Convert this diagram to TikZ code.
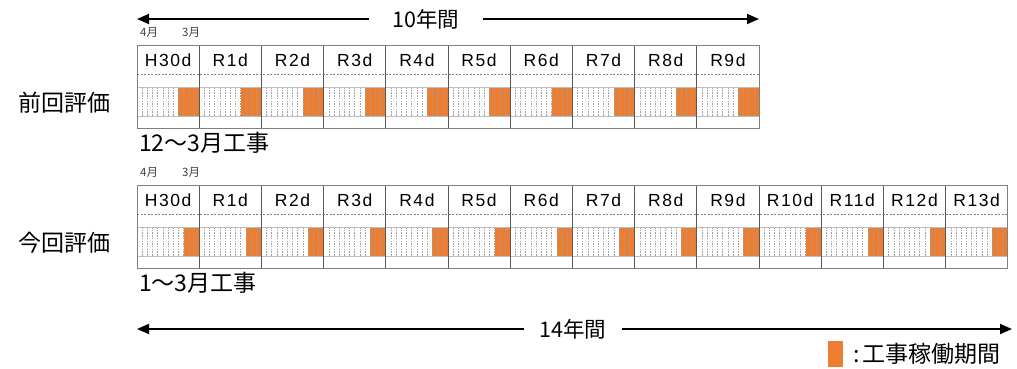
\documentclass[tikz,border=0pt]{standalone}
\usepackage{fontspec}
\setmainfont{Liberation Sans}
\newfontfamily\jp{Noto Sans CJK JP}
\newfontfamily\hdfont[LetterSpace=9]{Liberation Sans}
\usetikzlibrary{arrows.meta}
\definecolor{work}{HTML}{ED7D31}
\definecolor{framegray}{HTML}{808080}
\definecolor{sepgray}{HTML}{595959}
\definecolor{linegray}{HTML}{A0A0A0}
\definecolor{labelgray}{HTML}{404040}

\tikzset{
  yearlabel/.style={inner sep=0pt, font=\hdfont\fontsize{17.5}{20}\selectfont},
  monthlabel/.style={anchor=west, inner sep=0pt, text=labelgray, font=\jp\fontsize{11.5}{13}\selectfont},
  rowlabel/.style={inner sep=0pt, font=\jp\fontsize{23}{26}\selectfont},
  notelabel/.style={anchor=west, inner sep=0pt, font=\jp\fontsize{23}{26}\selectfont},
  spanlabel/.style={inner ysep=0pt, font=\jp\fontsize{21.5}{24}\selectfont},
  span/.style={line width=1.8pt, -{Triangle[length=12pt,width=10pt]}},
  monthline/.style={draw=linegray, line width=0.55pt, dash pattern=on 1.5pt off 1.2pt},
  headline/.style={draw=framegray, line width=0.7pt, dash pattern=on 2pt off 1.5pt},
  bandline/.style={draw=linegray!70, line width=0.7pt},
  colline/.style={draw=sepgray, line width=0.9pt},
  outline/.style={draw=framegray, line width=1pt},
}

% One schedule table: #1 name prefix, #2 number of years,
% #3 work months at the end of each year, #4 fiscal-year labels
\newcommand\drawplan[4]{%
  \pgfmathsetmacro\planright{137+62.2*#2}%
  \pgfmathtruncatemacro\planlast{#2-1}%
  \foreach \lab [count=\k from 0] in {#4} {
    \fill[work] ({137+62.2*\k+62.2*(12-#3)/12},87) rectangle ({137+62.2*(\k+1)},116);
    \foreach \m in {1,...,11}
      \draw[monthline] ({137+62.2*\k+62.2*\m/12},87) -- ({137+62.2*\k+62.2*\m/12},116);
    \node[yearlabel] (#1-\k) at ({137+62.2*(\k+0.5)},60) {\lab};
  }
  \draw[headline] (137,74) -- (\planright,74);
  \draw[bandline] (137,87) -- (\planright,87);
  \draw[bandline] (137,116) -- (\planright,116);
  \foreach \k in {1,...,\planlast}
    \draw[colline] ({137+62.2*\k},45) -- ({137+62.2*\k},128);
  \draw[outline] (137,45) rectangle (\planright,128);
  \node[monthlabel] (#1-apr) at (140,32) {4月};
  \node[monthlabel] (#1-mar) at (182,32) {3月};
}

\begin{document}
\begin{tikzpicture}[x=1pt,y=-1pt]
  \useasboundingbox (0,0) rectangle (1017,368);

  % previous evaluation: 10 years, works from December to March
  \drawplan{prev}{10}{4}{H30d,R1d,R2d,R3d,R4d,R5d,R6d,R7d,R8d,R9d}
  \node[rowlabel] (prev-name) at (64,103) {前回評価};
  \node[notelabel] (prev-note) at (139,143) {12～3月工事};

  % current evaluation: 14 years, works from January to March
  \begin{scope}[shift={(0,140)}]
    \drawplan{cur}{14}{3}{H30d,R1d,R2d,R3d,R4d,R5d,R6d,R7d,R8d,R9d,R10d,R11d,R12d,R13d}
    \node[rowlabel] (cur-name) at (64,103) {今回評価};
    \node[notelabel] (cur-note) at (139,143) {1～3月工事};
  \end{scope}

  % overall spans
  \coordinate (top-l) at (137,19);
  \coordinate (top-r) at (759,19);
  \node[spanlabel, inner xsep=23pt] (top-t) at (426,19) {10年間};
  \draw[span] (top-t) -- (top-l);
  \draw[span] (top-t) -- (top-r);

  \coordinate (bot-l) at (137,329);
  \coordinate (bot-r) at (1012,329);
  \node[spanlabel, inner xsep=15pt] (bot-t) at (573,329) {14年間};
  \draw[span] (bot-t) -- (bot-l);
  \draw[span] (bot-t) -- (bot-r);

  % legend
  \node[fill=work, minimum width=15pt, minimum height=26pt, inner sep=0pt] (key) at (835.5,354) {};
  \node[notelabel] (key-text) at (853,354) {:\kern3pt 工事稼働期間};
\end{tikzpicture}
\end{document}
